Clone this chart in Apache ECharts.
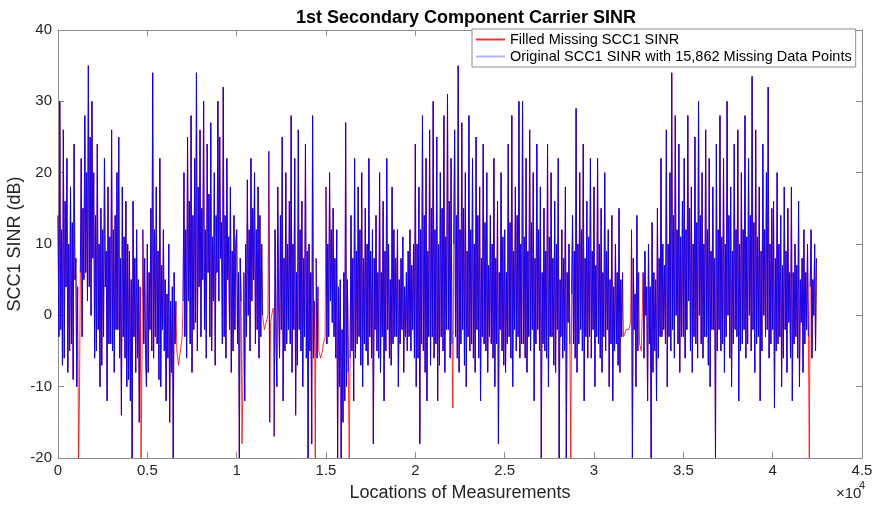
<!DOCTYPE html>
<html><head><meta charset="utf-8">
<script src="https://cdn.jsdelivr.net/npm/echarts@6/dist/echarts.min.js"></script>
<style>html,body{margin:0;padding:0;background:#fff}#c{width:882px;height:509px}</style>
</head><body><div id="c"></div>
<script>
// sample spacing along "Locations of Measurements"
const xStep = 50;
// filled SCC1 SINR (dB), one value per 50 locations
const sinrFilled = [
  14, -3, 30, -2, 12, -7, 26, -6, 16, 4, 22, -8, 10, -5, 18, -4, 13, -9, 24, 5,
  8, -10, 4, -20, -12, 6, 22, -3, 15, 5, 28, 6, 20, 2, 35, 4, 25, 0, 30, 8,
  20, -6, 14, -5, 24, -2, 10, -10, 15, -7, 12, -3, 22, 4, 9, -12, 18, -4, 11, -4,
  26, -5, 12, -8, 14, -2, 20, -2, 25, -6, 8, -14, 18, -3, 11, -6, 16, -10, 10, -9,
  9, -12, 5, -20, 16, -3, 8, -8, 12, -6, 5, -15, 4, -20, -6, 12, -4, 8, -5, -10,
  10, -8, 6, -2, 15, -5, 34, -6, 12, -3, 18, -4, 9, -9, 22, -10, 7, -2, 12, -5,
  5, -12, 3, -6, 10, -15, 2, -8, 4, -20, 6, -4, 2, -5, -6, -7, -6, -5, -4, -3,
  2, 20, -3, 12, -6, 25, 2, 16, -4, 28, -8, 14, -2, 22, -1, 34, -5, 18, 4, 26,
  -3, 15, 5, 30, -2, 12, -6, 24, 6, 17, -3, 27, -5, 11, 2, 20, -7, 14, 6, 30,
  2, 25, 8, 13, -4, 32, -3, 14, -6, 22, 5, 11, -2, 18, -8, 9, -5, 14, -2, 10,
  12, -4, 6, -20, 8, 2, -18, -10, 6, -12, 10, -3, 19, 0, 12, -5, 22, 2, 15, 5,
  20, -4, 12, -2, 18, -6, 14, -3, 10, 0, -1, -2, -2, -1, -1, 0, 23, -15, -1, 0,
  0, 1, -17, 12, -3, -10, 18, 2, -6, 14, -2, 25, -12, 8, -5, 20, -4, 10, -2, 16,
  -4, 28, -8, 10, -2, 22, -14, 6, -7, 26, -2, 12, -5, 16, -10, 8, -3, 24, -6, 9,
  -20, 10, -5, 6, -18, 28, -6, 2, -20, 8, -6, 4, -5, -5, -6, -6, -5, -4, -4, -3,
  18, -4, 10, -3, 20, 2, 12, -1, 15, -3, 8, -6, 12, -20, 4, -10, 5, -20, -2, -15,
  6, -12, 27, -10, 5, -8, -20, -6, 14, -5, 8, -12, 22, -6, 9, -4, 18, -3, 12, -7,
  20, -10, 8, -4, 15, -5, 10, -7, 22, -3, 9, -6, 12, -18, 8, -2, 14, -5, 6, -6,
  20, -8, 6, -3, 16, -12, 9, -5, 22, -2, 10, -6, 5, -7, 18, -4, 12, -3, 8, -3,
  12, -10, 5, -4, 8, -2, 11, -8, 4, -3, 6, -5, 9, -3, 12, -5, 7, -2, 10, -6,
  24, -10, 10, -6, 18, -18, 12, -4, 28, -5, 14, -8, 22, -12, 9, -3, 26, -7, 15, -3,
  30, -6, 12, -4, 25, -12, 10, -7, 20, -3, 15, -5, 28, -8, 11, -2, 31, -2, 16, -6,
  22, -4, -13, 10, 26, -3, 14, -6, 35, -8, 12, -4, 27, -2, 15, -7, 20, -10, 9, -3,
  28, -5, 12, -4, 22, -6, 10, -8, 25, -2, 14, -6, 18, -12, 8, -3, 24, -4, 13, -5,
  20, -8, 7, -3, 14, -4, 10, -6, 22, -10, 8, -4, 16, -18, 6, -2, 20, -5, 11, -7,
  12, -8, 6, -4, 24, -3, 13, -6, 28, -10, 9, -2, 18, -5, 14, -3, 30, -6, 10, -4,
  30, -4, 11, -6, 22, -8, 9, -3, 26, -5, 13, -2, 20, -12, 8, -4, 24, -2, 12, -5,
  18, -20, 6, -4, 15, -5, 9, -6, 24, -10, 11, -3, 20, -3, 8, -7, 16, -8, 10, -2,
  22, -20, 5, -3, 12, -6, 8, -5, 18, -20, 6, -1, 10, -4, -20, 3, 14, -4, 9, -6,
  29, -8, 10, -4, 20, -2, 12, -5, 24, -12, 8, -3, 16, -6, 11, -3, 22, -6, 9, -2,
  18, -10, 7, -3, 22, -4, 10, -6, 15, -8, 6, -3, 20, -5, 9, -2, 12, -10, 5, -4,
  14, -12, 4, -5, 10, -4, 6, -7, 15, -8, 5, -3, 6, -3, -3, -3, -2, -2, -2, -2,
  -2, -1, 12, -20, 8, -2, 3, -10, 14, -5, 6, -4, -4, -5, -5, 6, -6, 9, 0, 4,
  -12, 10, -4, 4, -20, 13, -8, 6, -5, 5, -12, 15, -6, 8, -3, 22, -3, 10, -2, 7,
  -4, 26, -10, 10, -3, 20, -5, 34, -2, 14, -6, 28, 0, 12, -4, 24, -8, 11, -3, 16,
  -3, 22, -6, 12, -2, 28, 2, 15, -5, 18, -8, 10, -3, 25, -4, 13, -6, 30, 0, 14,
  -4, 20, -6, 10, -3, 26, -3, 12, -7, 22, -10, 9, -2, 18, -2, 8, -20, 24, -5, 12,
  -2, 28, -5, 11, -4, 22, -8, 10, -3, 30, 0, 14, -6, 18, -10, 9, -4, 24, -2, 12,
  -3, 26, -12, 10, -5, 20, -4, 12, -2, 28, -6, 11, -4, 22, 0, 14, -5, 33.5, -2, 13,
  -8, 26, -4, 11, -3, 18, -12, 9, -5, 24, 0, 12, -3, 20, -2, 32, -6, 10, -4, 15,
  -2, 16, -13, 8, -5, 20, -4, 10, -3, 14, -10, 7, -6, 18, -2, 9, -8, 15, -1, 6,
  -6, 18, -12, 6, -4, 10, -3, 7, -6, 16, -10, 5, -1, 8, -8, 12, -4, 6, -2, 10,
  -3, -20, 4, 12, -6, 5, 0, 10, -5, 8
];
// sample positions (indices) that are missing in the original series
const missingIdx = [
  23, 24, 93, 94, 133, 134, 135, 136, 137, 138, 139, 206, 207,
  230, 231, 232, 233, 234, 235, 238, 239, 240, 241, 288,
  292, 293, 294, 295, 296, 297, 298, 299, 326, 442, 574,
  633, 634, 635, 636, 637, 638, 639, 640, 641, 651, 652, 653, 654, 841
];
const seriesNames = ['Filled Missing SCC1 SINR', 'Original SCC1 SINR with 15,862 Missing Data Points'];

const missingSet = new Set(missingIdx);
const filledData = sinrFilled.map((v, i) => [i * xStep, v]);
const originalData = sinrFilled.map((v, i) => [i * xStep, missingSet.has(i) ? null : v]);

const FONT = '"Liberation Sans", Arial, Helvetica, sans-serif';
const AX = '#8c8c8c';
const TXT = '#262626';

const chart = echarts.init(document.getElementById('c'), null, {renderer: 'canvas'});
const baseX = {
  type: 'value', min: 0, max: 45000, interval: 5000,
  axisLine: {show: true, onZero: false, lineStyle: {color: AX, width: 1}},
  axisTick: {show: true, inside: true, length: 6, lineStyle: {color: AX}},
  splitLine: {show: false}
};
const baseY = {
  type: 'value', min: -20, max: 40, interval: 10,
  axisLine: {show: true, onZero: false, lineStyle: {color: AX, width: 1}},
  axisTick: {show: true, inside: true, length: 6, lineStyle: {color: AX}},
  splitLine: {show: false}
};
chart.setOption({
  animation: false,
  backgroundColor: '#fff',
  title: {
    text: '1st Secondary Component Carrier SINR',
    left: 291, top: 4,
    textStyle: {fontFamily: FONT, fontSize: 18, fontWeight: 'bold', color: '#000'}
  },
  grid: {left: 58, right: 20, top: 30, bottom: 51, containLabel: false, outerBoundsMode: 'none'},
  legend: {
    orient: 'vertical', left: 472, top: 29,
    itemWidth: 29, itemHeight: 2, itemGap: 2,
    padding: [3, 4, 3, 4],
    borderColor: '#8c8c8c', borderWidth: 1, backgroundColor: '#fff',
    icon: 'rect',
    textStyle: {fontFamily: FONT, fontSize: 14.5, color: '#000'},
    data: [
      {name: seriesNames[0], itemStyle: {color: '#ff3030'}},
      {name: seriesNames[1], itemStyle: {color: '#b4b4ff'}}
    ]
  },
  xAxis: [
    Object.assign({}, baseX, {
      position: 'bottom',
      name: 'Locations of Measurements', nameLocation: 'middle', nameGap: 26,
      nameMoveOverlap: false,
      nameTextStyle: {fontFamily: FONT, fontSize: 18, color: TXT},
      axisLabel: {margin: 5, fontFamily: FONT, fontSize: 15, color: TXT,
        formatter: v => String(v / 10000)}
    }),
    Object.assign({}, baseX, {position: 'top', axisLabel: {show: false}})
  ],
  yAxis: [
    Object.assign({}, baseY, {
      position: 'left',
      name: 'SCC1 SINR (dB)', nameLocation: 'middle', nameGap: 34,
      nameMoveOverlap: false,
      nameTextStyle: {fontFamily: FONT, fontSize: 18, color: TXT},
      axisLabel: {margin: 6, fontFamily: FONT, fontSize: 15, color: TXT}
    }),
    Object.assign({}, baseY, {position: 'right', axisLabel: {show: false}})
  ],
  graphic: [
    {type: 'text', left: 836, top: 486, style: {text: '×10', fontFamily: FONT, fontSize: 15, fill: TXT}},
    {type: 'text', left: 859, top: 480, style: {text: '4', fontFamily: FONT, fontSize: 11, fill: TXT}}
  ],
  series: [
    {
      name: seriesNames[0], type: 'line', data: filledData,
      showSymbol: false, symbol: 'none', clip: true,
      lineStyle: {color: '#ff0000', width: 0.8},
      itemStyle: {color: '#ff0000'},
      z: 2
    },
    {
      name: seriesNames[1], type: 'line', data: originalData,
      showSymbol: false, symbol: 'none', clip: true, connectNulls: false,
      lineStyle: {color: '#0000ff', width: 1, opacity: 0.9},
      itemStyle: {color: '#0000ff'},
      z: 3
    }
  ]
});
</script>
</body></html>
